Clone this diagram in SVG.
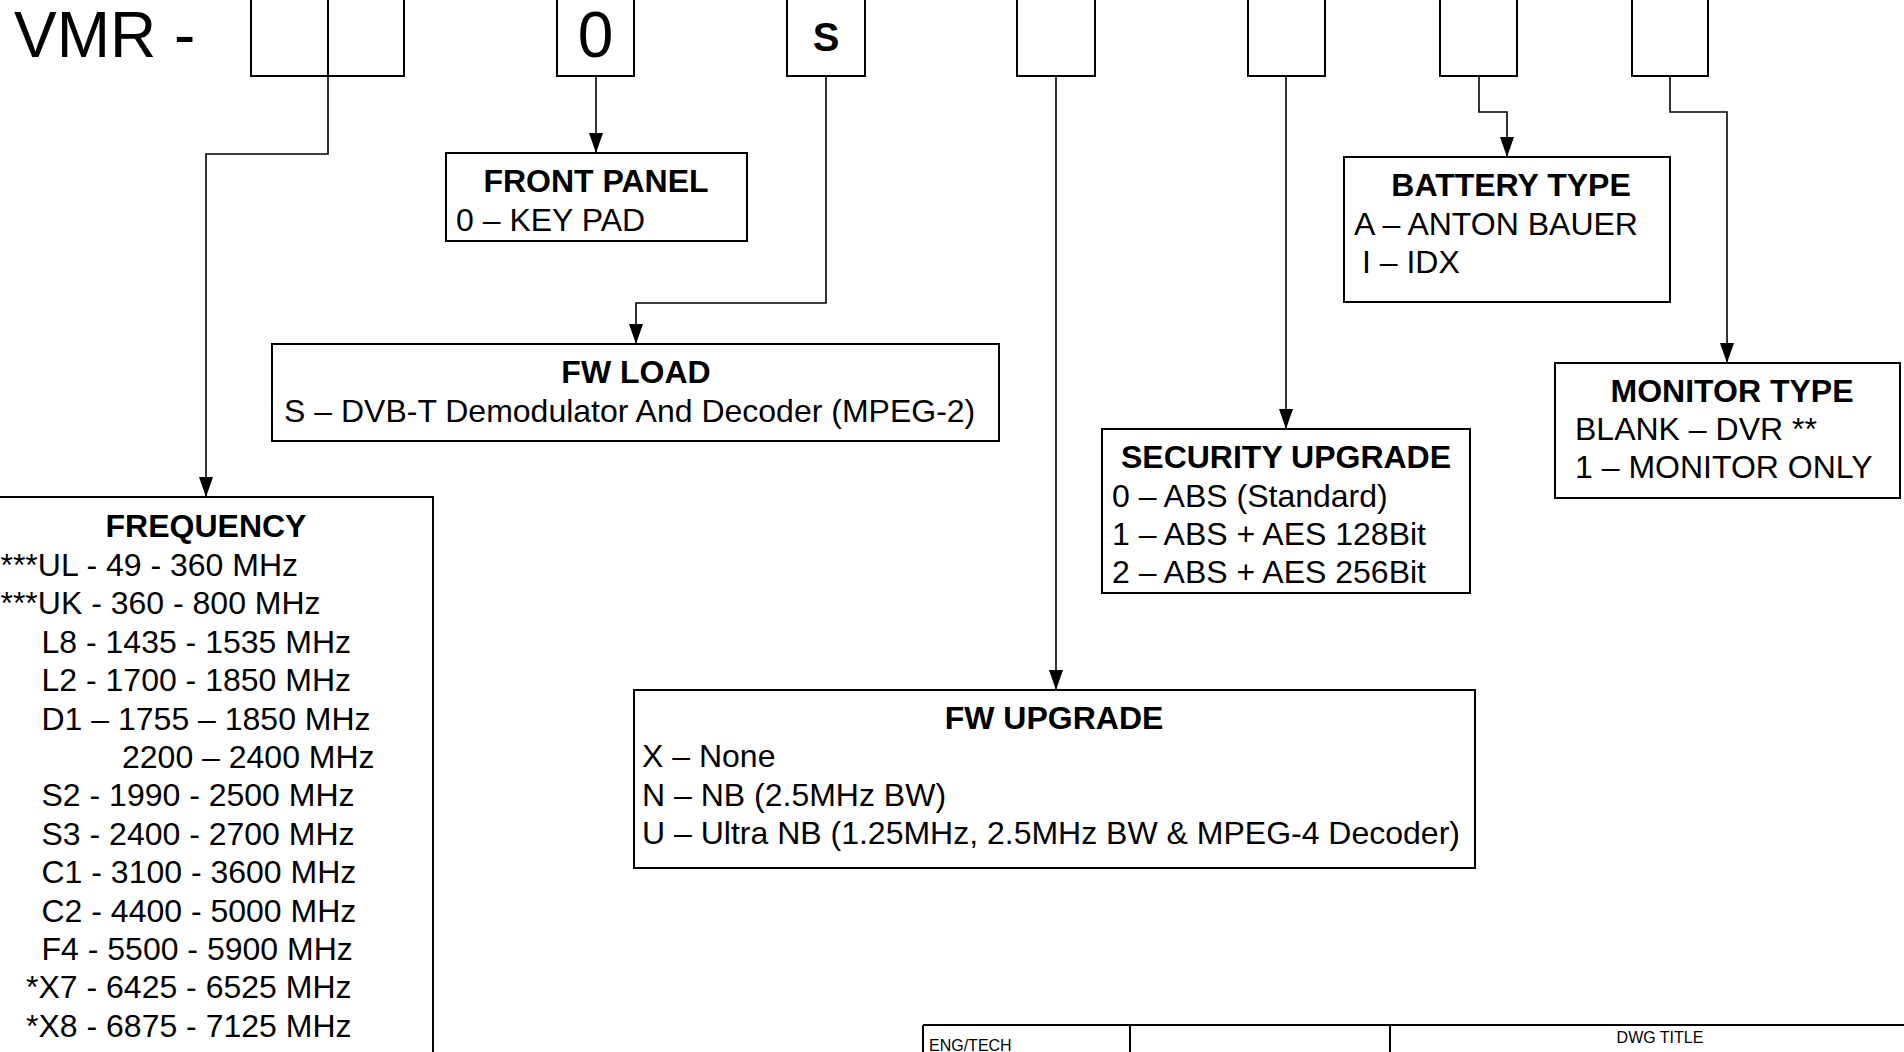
<svg xmlns="http://www.w3.org/2000/svg" width="1904" height="1052" viewBox="0 0 1904 1052">
<defs>
<style>
text{font-family:"Liberation Sans",Arial,sans-serif;fill:#000}
.t{font-size:32px;font-weight:bold;text-anchor:middle}
.l{font-size:32px}
.box{fill:#fff;stroke:#000;stroke-width:2}
.con{fill:none;stroke:#000;stroke-width:1.6}
.sm{font-size:16px}
</style>
<marker id="arr" markerUnits="userSpaceOnUse" markerWidth="20" markerHeight="14" refX="20" refY="7" orient="auto" viewBox="0 0 20 14"><path d="M0,0 L20,7 L0,14 z" fill="#000"/></marker>
</defs>
<rect width="1904" height="1052" fill="#fff"/>
<text x="14" y="57" style="font-size:64px">VMR -</text>

<g id="connectors">
<path class="con" d="M328,76 V154 H206 V497" marker-end="url(#arr)"/>
<path class="con" d="M596,76 V153" marker-end="url(#arr)"/>
<path class="con" d="M826,76 V303 H636 V344" marker-end="url(#arr)"/>
<path class="con" d="M1056,76 V690" marker-end="url(#arr)"/>
<path class="con" d="M1286,76 V429" marker-end="url(#arr)"/>
<path class="con" d="M1479,76 V112 H1507 V157" marker-end="url(#arr)"/>
<path class="con" d="M1670,76 V112 H1727 V363" marker-end="url(#arr)"/>
</g>

<g id="code-freq"><rect class="box" x="251" y="-4" width="153" height="80"/><line x1="328" y1="-4" x2="328" y2="76" stroke="#000" stroke-width="2"/></g>
<g id="code-panel"><rect class="box" x="557" y="-4" width="77" height="80"/><text x="595.5" y="57" style="font-size:64px;text-anchor:middle">0</text></g>
<g id="code-load"><rect class="box" x="787" y="-4" width="78" height="80"/><text x="826" y="51" style="font-size:40px;font-weight:bold;text-anchor:middle">S</text></g>
<g id="code-upgrade"><rect class="box" x="1017" y="-4" width="78" height="80"/></g>
<g id="code-security"><rect class="box" x="1248" y="-4" width="77" height="80"/></g>
<g id="code-battery"><rect class="box" x="1440" y="-4" width="77" height="80"/></g>
<g id="code-monitor"><rect class="box" x="1632" y="-4" width="76" height="80"/></g>

<g id="front-panel">
<rect class="box" x="446" y="153" width="301" height="88"/>
<text class="t" x="596" y="192">FRONT PANEL</text>
<text class="l" x="456" y="231">0 – KEY PAD</text>
</g>

<g id="fw-load">
<rect class="box" x="272" y="344" width="727" height="97"/>
<text class="t" x="636" y="383">FW LOAD</text>
<text class="l" x="284" y="422">S – DVB-T Demodulator And Decoder (MPEG-2)</text>
</g>

<g id="frequency">
<rect class="box" x="-21" y="497" width="454" height="600"/>
<text class="t" x="206" y="537">FREQUENCY</text>
<text class="l" x="-12" y="576">****UL - 49 - 360 MHz</text>
<text class="l" x="-12" y="614">****UK - 360 - 800 MHz</text>
<text class="l" x="41.5" y="653">L8 - 1435 - 1535 MHz</text>
<text class="l" x="41.5" y="691">L2 - 1700 - 1850 MHz</text>
<text class="l" x="41.5" y="730">D1 – 1755 – 1850 MHz</text>
<text class="l" x="122" y="768">2200 – 2400 MHz</text>
<text class="l" x="41.5" y="806">S2 - 1990 - 2500 MHz</text>
<text class="l" x="41.5" y="845">S3 - 2400 - 2700 MHz</text>
<text class="l" x="41.5" y="883">C1 - 3100 - 3600 MHz</text>
<text class="l" x="41.5" y="922">C2 - 4400 - 5000 MHz</text>
<text class="l" x="41.5" y="960">F4 - 5500 - 5900 MHz</text>
<text class="l" x="26" y="998">*X7 - 6425 - 6525 MHz</text>
<text class="l" x="26" y="1037">*X8 - 6875 - 7125 MHz</text>
</g>

<g id="fw-upgrade">
<rect class="box" x="634" y="690" width="841" height="178"/>
<text class="t" x="1054" y="729">FW UPGRADE</text>
<text class="l" x="642" y="767">X – None</text>
<text class="l" x="642" y="806">N – NB (2.5MHz BW)</text>
<text class="l" x="642" y="844">U – Ultra NB (1.25MHz, 2.5MHz BW &amp; MPEG-4 Decoder)</text>
</g>

<g id="security-upgrade">
<rect class="box" x="1102" y="429" width="368" height="164"/>
<text class="t" x="1286" y="468">SECURITY UPGRADE</text>
<text class="l" x="1112" y="507">0 – ABS (Standard)</text>
<text class="l" x="1112" y="545">1 – ABS + AES 128Bit</text>
<text class="l" x="1112" y="583">2 – ABS + AES 256Bit</text>
</g>

<g id="battery-type">
<rect class="box" x="1344" y="157" width="326" height="145"/>
<text class="t" x="1511" y="196">BATTERY TYPE</text>
<text class="l" x="1354" y="235">A – ANTON BAUER</text>
<text class="l" x="1362" y="273">I – IDX</text>
</g>

<g id="monitor-type">
<rect class="box" x="1555" y="363" width="345" height="135"/>
<text class="t" x="1732" y="402">MONITOR TYPE</text>
<text class="l" x="1575" y="440">BLANK – DVR **</text>
<text class="l" x="1575" y="478">1 – MONITOR ONLY</text>
</g>

<g id="title-block">
<path d="M923,1025 H1906 M923,1025 V1056 M1130,1025 V1056 M1390,1025 V1056" fill="none" stroke="#000" stroke-width="2"/>
<text class="sm" x="929" y="1051">ENG/TECH</text>
<text class="sm" x="1660" y="1043" text-anchor="middle">DWG TITLE</text>
</g>
</svg>
